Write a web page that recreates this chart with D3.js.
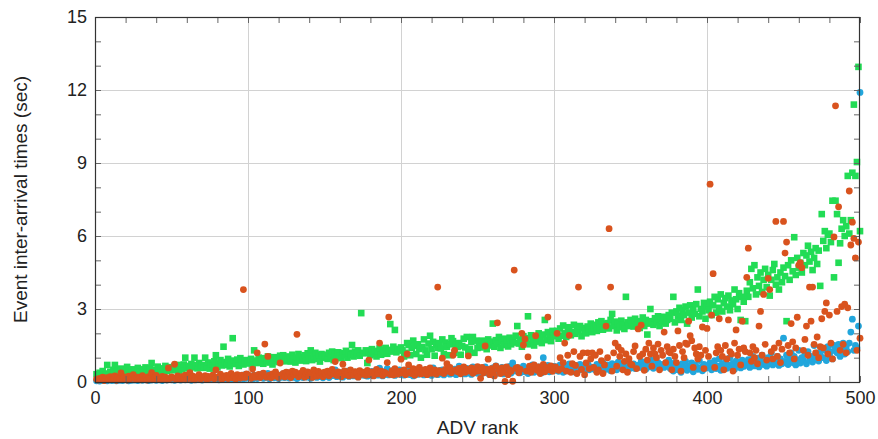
<!DOCTYPE html>
<html>
<head>
<meta charset="utf-8">
<script src="https://cdn.jsdelivr.net/npm/d3@7"></script>
<style>
  html, body { margin: 0; padding: 0; background: #fff; }
  svg { display: block; font-family: "Liberation Sans", Arial, sans-serif; }
</style>
</head>
<body>
<svg id="chart" width="878" height="439"></svg>
<script>
// Axis settings
const xTicks = [0, 100, 200, 300, 400, 500];
const yTicks = [0, 3, 6, 9, 12, 15];
const xLabel = "ADV rank";
const yLabel = "Event inter-arrival times (sec)";

// Series values, one per ADV rank 1..500
const greenSeries = [
0.32,0.25,0.38,0.21,0.45,0.3,0.28,0.7,0.35,0.42,0.26,0.5,0.7,0.33,0.48,0.4,0.55,0.29,0.5,0.36,0.62,0.44,0.31,0.52,0.39,
0.46,0.35,0.58,0.41,0.3,0.52,0.44,0.6,0.37,0.49,0.55,0.78,0.42,0.5,0.34,0.63,0.47,0.56,0.4,0.52,0.66,0.45,0.58,0.5,0.61,
0.48,0.65,0.55,0.7,0.44,0.6,0.52,0.72,1.0,0.57,0.66,0.5,0.74,0.6,1.0,0.69,0.56,0.78,0.62,0.7,0.58,1.0,0.64,0.8,0.55,
0.72,0.66,0.85,1.1,0.6,0.76,0.9,0.68,1.45,0.82,0.7,0.95,0.64,0.78,1.8,0.88,0.74,0.92,0.66,0.98,0.8,0.72,0.9,0.85,0.76,
0.82,0.95,0.7,1.3,0.88,0.78,1.0,0.84,0.92,0.75,0.98,0.86,1.05,0.8,0.93,0.72,1.02,0.88,0.96,0.82,1.08,0.9,1.1,0.85,0.97,
0.92,1.05,0.84,1.12,0.95,0.8,1.0,1.15,0.88,1.02,0.93,1.1,0.86,1.18,0.97,1.3,0.9,1.06,1.2,0.95,1.1,0.84,1.15,1.0,1.08,
1.12,0.95,1.2,1.05,1.25,0.9,1.15,1.02,1.22,1.08,0.98,1.18,1.1,1.28,1.0,1.2,1.12,1.52,1.05,1.25,1.15,1.3,1.08,2.83,1.2,
1.18,1.3,0.78,1.22,1.1,1.35,1.15,1.28,1.05,1.25,1.38,1.12,1.3,1.2,1.4,1.16,1.32,2.38,1.25,1.45,2.14,1.22,1.36,1.3,1.42,
1.3,1.05,1.2,1.6,1.52,1.1,1.4,1.7,1.48,1.15,1.55,1.36,1.0,1.44,1.75,1.3,1.12,1.58,1.9,1.35,1.65,1.08,1.53,1.4,1.6,
1.38,1.75,1.15,1.62,1.45,1.1,1.55,1.8,1.68,1.2,1.52,1.44,1.6,1.12,1.48,1.78,1.42,1.85,1.25,1.36,1.65,1.85,1.2,1.7,1.4,
1.55,1.42,1.7,1.48,1.62,1.35,1.75,1.5,1.66,2.4,1.45,1.72,1.58,1.85,1.4,1.68,1.52,1.78,1.6,1.46,1.82,1.55,1.7,1.62,1.9,
2.3,1.58,1.75,1.45,1.88,1.62,1.8,2.7,1.55,1.92,1.7,1.5,1.85,1.66,2.0,1.78,1.6,1.95,2.55,1.72,2.05,1.82,1.68,2.1,1.88,
1.95,2.1,1.78,2.2,1.9,2.32,2.0,1.85,2.15,2.25,1.92,2.05,2.35,1.98,2.18,2.08,2.3,1.88,2.22,2.12,2.0,2.28,2.15,2.4,2.05,
2.2,2.35,2.1,2.45,2.25,2.5,2.15,2.38,2.28,2.42,2.2,2.55,2.8,2.3,2.48,2.12,2.4,2.25,2.52,2.35,2.18,3.5,2.45,2.3,2.55,
2.4,2.28,2.6,2.35,2.5,2.22,2.45,2.65,2.3,2.55,1.95,2.4,3.0,2.5,2.35,2.62,2.45,2.7,2.3,2.58,2.48,2.68,2.4,2.55,2.75,
2.6,2.85,3.5,2.45,2.9,2.7,3.05,2.55,2.95,2.75,3.1,2.4,2.85,3.15,2.65,2.95,2.8,3.2,3.8,2.7,3.0,2.9,3.25,2.6,3.1,
2.95,3.3,2.75,3.15,3.5,2.85,3.4,3.05,3.6,2.9,3.25,3.45,3.1,3.55,2.95,3.35,3.2,3.8,3.4,3.0,3.65,2.55,3.5,3.3,2.5,
3.75,3.5,4.1,4.65,3.85,4.8,3.6,4.3,3.95,4.5,3.7,4.2,4.65,3.9,4.4,3.55,4.2,4.6,4.85,4.0,4.3,3.8,4.5,4.1,4.7,
4.35,2.5,4.8,4.2,5.0,4.55,5.95,4.4,5.1,4.7,4.9,4.5,5.3,4.8,5.2,5.6,4.95,5.35,4.6,5.1,5.5,4.85,5.4,3.95,6.9,
5.8,6.2,5.5,6.05,6.1,5.75,7.45,4.3,7.45,6.9,4.9,5.7,6.3,6.65,6.0,6.4,8.47,6.1,6.65,8.6,11.4,8.47,9.04,12.95,6.2
];

const orangeSeries = [
0.12,0.08,0.15,0.1,0.2,0.06,0.14,0.18,0.09,0.22,0.11,0.16,0.25,0.07,0.19,0.13,0.37,0.1,0.21,0.15,0.08,0.24,0.12,0.18,0.3,
0.14,0.1,0.2,0.16,0.09,0.26,0.13,0.18,0.08,0.22,0.15,0.38,0.11,0.19,0.27,0.12,0.17,0.1,0.23,0.15,0.2,0.09,0.58,0.14,0.21,
0.16,0.73,0.12,0.25,0.18,0.1,0.22,0.15,0.28,0.11,0.19,0.38,0.14,0.24,0.09,0.2,0.16,0.3,0.12,0.21,0.17,0.26,0.1,0.23,0.15,
0.19,0.28,0.13,0.5,0.2,0.16,0.32,0.11,0.24,0.18,0.27,0.14,0.22,0.35,0.17,0.25,0.12,0.3,0.2,0.16,0.28,3.8,0.19,0.33,0.3,
0.22,0.15,0.53,0.27,0.2,1.2,0.31,0.18,0.25,0.36,1.56,0.2,1.05,0.28,0.17,0.33,0.24,0.42,0.3,0.19,0.78,0.26,0.35,0.21,0.4,
0.25,0.38,0.18,0.45,0.3,0.4,1.96,0.22,0.35,0.28,0.48,0.2,0.33,0.42,0.26,0.37,0.19,0.5,0.31,0.24,0.44,0.28,0.36,0.22,0.4,
0.3,0.45,0.25,0.38,0.52,0.33,0.84,0.27,0.41,0.35,0.22,0.73,0.46,0.3,0.39,0.25,0.5,0.34,0.28,0.43,0.36,0.2,0.47,0.32,0.4,
0.35,0.28,0.48,0.9,0.3,0.42,0.25,0.38,0.52,0.33,1.6,0.45,0.27,0.4,0.36,0.8,2.67,0.31,0.46,0.29,0.55,0.37,0.32,0.44,0.94,
0.38,0.5,0.3,1.15,0.7,0.42,0.35,0.55,0.28,0.46,0.4,0.6,0.33,0.48,0.37,0.52,0.3,0.45,0.58,0.36,0.43,0.5,0.32,3.9,0.47,
0.4,0.98,0.35,0.52,0.75,0.44,0.6,0.38,1.1,1.3,0.5,0.42,0.56,0.34,0.48,0.62,0.4,0.53,1.07,0.45,0.58,0.36,0.5,0.44,0.63,
0.45,0.15,0.6,0.38,1.48,0.52,0.94,0.3,0.55,0.42,0.25,0.65,2.43,0.48,0.35,0.58,0.4,0.02,0.62,0.3,0.5,0.44,0.03,4.6,0.56,
0.6,0.38,0.52,2.0,1.52,1.77,0.45,1.03,0.65,0.4,0.58,0.7,1.9,0.48,0.62,0.35,0.55,0.72,0.42,0.6,2.67,0.5,0.66,0.44,0.58,
0.62,2.0,0.48,1.0,0.55,0.8,1.6,0.45,1.1,1.92,0.4,0.75,1.25,0.68,0.35,3.9,1.05,0.52,1.2,0.3,0.78,1.2,0.55,0.95,1.2,
0.6,1.1,0.4,0.5,1.25,0.88,0.35,0.7,2.3,1.0,6.3,3.9,0.45,1.2,1.6,0.65,1.44,1.05,1.3,0.5,0.85,1.15,0.4,0.96,0.74,
0.7,1.25,1.48,0.55,2.18,1.05,2.34,1.15,0.48,1.35,0.9,1.6,1.15,0.65,1.4,1.15,1.0,1.56,0.5,1.3,1.1,2.05,0.8,1.45,1.24,
1.2,0.5,1.35,1.05,0.8,2.1,1.5,0.45,1.25,1.0,1.6,1.55,2.5,1.9,1.7,0.6,1.4,1.15,0.95,1.45,1.1,2.26,0.55,1.3,2.2,
1.05,8.13,2.75,4.45,0.6,1.2,1.45,2.6,1.3,1.05,0.5,1.5,0.95,2.55,1.25,1.15,0.45,1.6,2.14,1.1,1.35,0.7,2.5,1.4,1.25,
4.3,5.5,1.2,0.85,1.45,1.0,1.3,0.75,2.3,2.9,1.1,3.6,1.55,0.9,4.26,3.8,1.25,0.95,1.4,6.6,1.05,1.6,0.8,1.35,6.6,
5.3,5.75,1.5,1.2,2.4,1.65,0.95,1.4,2.66,4.8,4.9,4.7,1.3,1.75,2.3,1.1,3.9,2.5,3.9,1.55,1.2,1.85,1.0,1.45,2.6,
1.4,2.9,3.25,1.15,2.75,1.6,0.95,5.96,11.35,2.9,7.2,1.3,3.1,1.55,3.2,1.2,3.05,7.85,5.63,6.57,5.9,5.1,1.3,5.75,1.8
];

const blueSeries = [
0.05,0.08,0.04,0.1,0.06,0.12,0.07,0.05,0.09,0.11,0.06,0.08,0.13,0.05,0.1,0.07,0.12,0.06,0.09,0.14,0.08,0.05,0.11,0.07,0.1,
0.08,0.12,0.06,0.1,0.14,0.07,0.11,0.09,0.15,0.06,0.12,0.08,0.1,0.16,0.07,0.13,0.09,0.11,0.06,0.14,0.1,0.08,0.12,0.15,0.09,
0.11,0.07,0.14,0.1,0.17,0.08,0.12,0.15,0.09,0.13,0.18,0.1,0.07,0.16,0.12,0.09,0.14,0.2,0.11,0.08,0.15,0.13,0.1,0.18,0.12,
0.14,0.1,0.17,0.12,0.2,0.09,0.15,0.22,0.11,0.18,0.13,0.1,0.24,0.16,0.12,0.19,0.14,0.26,0.11,0.17,0.21,0.13,0.3,0.15,0.19,
0.16,0.22,0.12,0.28,0.18,0.14,0.25,0.2,0.32,0.15,0.23,0.19,0.35,0.13,0.26,0.21,0.17,0.3,0.24,0.14,0.28,0.2,0.33,0.18,0.25,
0.22,0.16,0.3,0.19,0.36,0.24,0.14,0.28,0.21,0.33,0.18,0.26,0.4,0.2,0.25,0.15,0.31,0.23,0.37,0.19,0.27,0.22,0.34,0.17,0.29,
0.24,0.3,0.18,0.35,0.26,0.42,0.5,0.22,0.32,0.28,0.38,0.2,0.34,0.27,0.45,0.23,0.31,0.37,0.25,0.4,0.29,0.21,0.36,0.3,0.33,
0.27,0.39,0.24,0.35,0.3,0.44,0.26,0.33,0.48,0.28,0.57,0.36,0.25,0.41,0.31,0.55,0.29,0.38,0.46,0.32,0.27,0.42,0.35,0.5,0.3,
0.36,0.28,0.45,0.33,0.52,0.3,0.4,0.25,0.48,0.37,0.31,0.55,0.34,0.42,0.29,0.5,0.38,0.32,0.46,0.27,0.58,0.35,0.41,0.3,0.47,
0.34,0.5,0.29,0.44,0.38,0.6,0.32,0.46,0.36,0.53,0.3,0.42,0.65,0.35,0.48,0.4,0.33,0.56,0.38,0.45,0.31,0.62,0.4,0.5,0.36,
0.42,0.55,0.35,0.48,0.62,0.38,0.52,0.3,0.45,0.58,0.4,0.66,0.36,0.5,0.43,0.6,0.33,0.47,0.55,0.41,0.64,0.37,0.78,0.46,0.53,
0.44,0.58,0.38,0.52,0.65,0.42,0.55,0.35,0.6,0.48,0.7,0.4,0.56,0.45,0.62,0.5,0.38,1.0,0.54,0.46,0.68,0.42,0.58,0.5,0.64,
0.48,0.62,0.44,0.7,0.52,0.4,0.66,0.55,0.46,0.74,0.5,0.6,0.42,0.68,0.56,0.48,0.72,0.52,0.64,0.45,0.58,0.76,0.5,0.62,0.54,
0.6,0.5,0.72,0.56,0.64,0.48,0.8,0.58,0.52,0.7,0.62,0.46,0.75,0.55,0.66,0.5,0.82,0.6,0.68,0.54,0.72,0.58,0.64,0.78,0.56,
0.62,0.74,0.55,0.68,0.6,0.7,0.85,0.58,0.66,0.52,0.76,0.62,0.7,0.9,0.56,0.68,0.64,0.8,0.58,0.72,0.66,0.6,0.78,0.7,0.9,
0.55,0.72,0.45,0.8,0.6,0.5,0.68,0.4,0.75,0.58,0.85,0.48,0.65,0.55,0.78,0.42,0.7,0.62,0.52,0.88,0.6,0.46,0.72,0.56,0.66,
0.6,0.78,0.5,0.7,0.88,0.55,0.65,0.95,0.48,0.74,0.62,0.82,0.56,0.7,1.0,0.6,0.76,0.52,0.86,0.66,0.72,0.58,0.9,0.64,0.8,
0.7,0.92,0.6,0.82,1.05,0.66,0.78,0.98,0.62,0.88,1.1,0.72,0.85,0.65,1.0,0.76,1.2,0.7,0.9,0.8,1.05,0.68,0.95,0.75,1.8,
0.85,1.1,0.72,0.96,1.2,0.8,1.05,0.7,0.92,1.3,0.78,1.0,0.88,1.15,0.75,1.25,0.9,1.05,0.82,1.5,0.95,1.2,0.86,1.1,1.35,
1.0,1.3,0.88,1.45,1.1,1.25,0.95,1.5,1.4,1.2,1.55,1.05,1.35,1.6,1.15,1.45,1.25,1.6,2.05,2.58,1.3,1.5,1.4,2.3,11.9
];

const colors = { green: "#22dc55", orange: "#d9531e", blue: "#22a6dc" };

const svg = d3.select("#chart");
// Plot area bounds
const plotL = 95, plotR = 860, plotT = 17, plotB = 382;

const x = d3.scaleLinear().domain([0, 500]).range([plotL, plotR]);
const y = d3.scaleLinear().domain([0, 15]).range([plotB, plotT]);

// Grid lines at the major ticks
const grid = svg.append("g").attr("stroke", "#d2d2d2").attr("stroke-width", 1);
grid.selectAll("line.gx").data(xTicks.slice(1, -1)).join("line")
  .attr("x1", d => Math.round(x(d)) + 0.5).attr("x2", d => Math.round(x(d)) + 0.5)
  .attr("y1", plotT).attr("y2", plotB);
grid.selectAll("line.gy").data(yTicks.slice(1, -1)).join("line")
  .attr("y1", d => Math.round(y(d)) + 0.5).attr("y2", d => Math.round(y(d)) + 0.5)
  .attr("x1", plotL).attr("x2", plotR);

// Scatter marks: squares first, then blue circles, orange circles on top
const toPoints = arr => arr.map((v, i) => ({ r: i + 1, v }));

const gSize = 6.6;
svg.append("g").selectAll("rect").data(toPoints(greenSeries)).join("rect")
  .attr("x", d => x(d.r) - gSize / 2).attr("y", d => y(d.v) - gSize / 2)
  .attr("width", gSize).attr("height", gSize)
  .attr("fill", colors.green);

svg.append("g").selectAll("circle").data(toPoints(blueSeries)).join("circle")
  .attr("cx", d => x(d.r)).attr("cy", d => y(d.v)).attr("r", 3.4)
  .attr("fill", colors.blue);

svg.append("g").selectAll("circle").data(toPoints(orangeSeries)).join("circle")
  .attr("cx", d => x(d.r)).attr("cy", d => y(d.v)).attr("r", 3.4)
  .attr("fill", colors.orange);

// Axes with inward ticks on all four sides
const tickLen = 6;
const xMinor = d3.range(0, 501, 20);
const yMinor = d3.range(0, 16, 1);

function styleAxis(g) {
  g.select(".domain").remove();
  g.selectAll(".tick line").attr("stroke", "#666");
  g.selectAll(".tick text").attr("fill", "#222").style("font-size", "18px")
    .style("font-family", "'Liberation Sans', Arial, sans-serif");
}

svg.append("g").attr("transform", `translate(0,${plotB})`)
  .call(d3.axisBottom(x).tickValues(xMinor).tickSize(-tickLen).tickPadding(9)
    .tickFormat(d => xTicks.includes(d) ? d : ""))
  .call(styleAxis);
svg.append("g").attr("transform", `translate(0,${plotT})`)
  .call(d3.axisTop(x).tickValues(xMinor).tickSize(-tickLen).tickFormat(""))
  .call(styleAxis);
svg.append("g").attr("transform", `translate(${plotL},0)`)
  .call(d3.axisLeft(y).tickValues(yMinor).tickSize(-tickLen).tickPadding(8)
    .tickFormat(d => yTicks.includes(d) ? d : ""))
  .call(styleAxis);
svg.append("g").attr("transform", `translate(${plotR},0)`)
  .call(d3.axisRight(y).tickValues(yMinor).tickSize(-tickLen).tickFormat(""))
  .call(styleAxis);

// Plot frame
svg.append("rect")
  .attr("x", plotL + 0.5).attr("y", plotT + 0.5)
  .attr("width", plotR - plotL - 1).attr("height", plotB - plotT)
  .attr("fill", "none").attr("stroke", "#333").attr("stroke-width", 1.2);

// Axis titles
svg.append("text").attr("x", (plotL + plotR) / 2).attr("y", 434)
  .attr("text-anchor", "middle").attr("fill", "#222").style("font-size", "19px")
  .text(xLabel);
svg.append("text")
  .attr("transform", `translate(27,${(plotT + plotB) / 2}) rotate(-90)`)
  .attr("text-anchor", "middle").attr("fill", "#222").style("font-size", "19px")
  .text(yLabel);
</script>
</body>
</html>
